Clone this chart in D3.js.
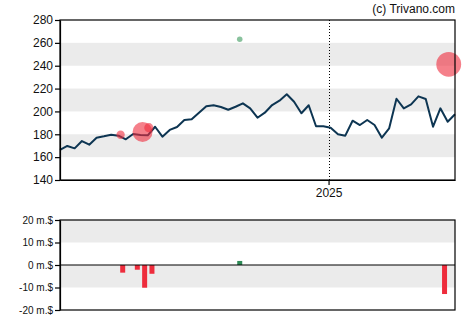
<!DOCTYPE html>
<html><head><meta charset="utf-8">
<script src="https://cdn.jsdelivr.net/npm/d3@7"></script>
<style>body{margin:0;background:#fff}svg{display:block;font-family:"Liberation Sans",Arial,sans-serif}</style>
</head><body><div id="chart"></div>
<script>
const startDate = "2024-04-19";
const prices = [166.3,169.8,167.7,174.1,170.9,177.0,178.2,179.6,178.8,175.6,180.3,179.4,179.1,186.6,177.9,183.8,186.4,192.5,193.1,198.9,204.5,205.4,203.9,201.5,204.1,207.1,202.7,194.5,198.9,205.6,209.4,215.0,208.5,198.4,205.4,187.0,187.0,185.8,180.0,178.8,191.9,188.1,192.5,188.1,177.0,185.2,211.1,202.7,206.2,213.2,210.9,186.6,202.7,191.0,197.5];
const priceTicks = [140,160,180,200,220,240,260,280];
const priceBands = [[240,260],[200,220],[160,180]];
const tradeDates = ["2024-06-16","2024-07-07","2024-07-13","2024-10-08","2025-04-26"];
const tradePrices = [179.6,182.0,185.8,263.1,241.2];
const tradeValues = [-3.4,-10.1,-3.9,1.8,-12.9];
const flowDates = ["2024-06-18","2024-07-02","2024-07-09","2024-07-16","2024-10-08","2025-04-22"];
const flowValues = [-3.4,-2.1,-10.1,-3.9,1.8,-12.9];
const flowTicks = [-20,-10,0,10,20];
const flowBands = [[10,20],[-10,0]];
const yearMarks = ["2025-01-01"];
const yearLabels = ["2025"];

const W=470,H=325;
const parse=d3.utcParse("%Y-%m-%d");
const t0=parse(startDate);
const dates=prices.map((p,i)=>d3.utcDay.offset(t0,i*7));
const svg=d3.select("#chart").append("svg").attr("width",W).attr("height",H);
const L=60,R=455,T1=20,B1=180,T2=220,B2=310;
const x=d3.scaleUtc().domain([dates[0],dates[dates.length-1]]).range([L,R]);
const y=d3.scaleLinear().domain([140,280]).range([B1,T1]);
const y2=d3.scaleLinear().domain([-20,20]).range([B2,T2]);
const band="#ebebeb";

svg.append("g").selectAll("rect").data(priceBands).join("rect")
 .attr("x",L).attr("width",R-L).attr("y",d=>y(d[1])).attr("height",d=>y(d[0])-y(d[1])).attr("fill",band);
svg.append("g").selectAll("rect").data(flowBands).join("rect")
 .attr("x",L).attr("width",R-L).attr("y",d=>y2(d[1])).attr("height",d=>y2(d[0])-y2(d[1])).attr("fill",band);

svg.append("g").selectAll("line").data(yearMarks).join("line")
 .attr("x1",d=>Math.round(x(parse(d)))+0.5).attr("x2",d=>Math.round(x(parse(d)))+0.5)
 .attr("y1",T1).attr("y2",B1).attr("stroke","#000").attr("stroke-dasharray","1,2");

svg.append("path").datum(prices).attr("fill","none").attr("stroke","#0d3552").attr("stroke-width",2).attr("stroke-linejoin","round")
 .attr("d",d3.line().x((d,i)=>x(dates[i])).y(d=>y(d)));

const r=d3.scaleLinear().domain([0,13]).range([1.2,12.5]);
svg.append("g").selectAll("circle").data(tradeValues).join("circle")
 .attr("cx",(d,i)=>x(parse(tradeDates[i]))).attr("cy",(d,i)=>y(tradePrices[i]))
 .attr("r",d=>r(Math.abs(d)))
 .attr("fill",d=>d<0?"#ee2c3c":"#3a9a5c").attr("fill-opacity",0.6);

svg.append("g").selectAll("rect").data(flowValues).join("rect")
 .attr("x",(d,i)=>x(parse(flowDates[i]))-2.5).attr("width",5)
 .attr("y",d=>y2(Math.max(0,d))).attr("height",d=>Math.abs(y2(d)-y2(0)))
 .attr("fill",d=>d<0?"#ee2c3c":"#2e8b57");

function frame(t,b){svg.append("rect").attr("x",L).attr("y",t).attr("width",R-L).attr("height",b-t).attr("fill","none").attr("stroke","#000").attr("stroke-width",1.2);}
frame(T1,B1);frame(T2,B2);
svg.append("line").attr("x1",L).attr("x2",R).attr("y1",y2(0)).attr("y2",y2(0)).attr("stroke","#000").attr("stroke-width",1.2);

const ay=svg.append("g").attr("transform",`translate(${L},0)`).call(d3.axisLeft(y).tickValues(priceTicks).tickSize(5).tickSizeOuter(0).tickPadding(2).tickFormat(d3.format("d")));
const ay2=svg.append("g").attr("transform",`translate(${L},0)`).call(d3.axisLeft(y2).tickValues(flowTicks).tickSize(5).tickSizeOuter(0).tickPadding(2).tickFormat(d=>d+" m.$"));
const ax=svg.append("g").attr("transform",`translate(0,${B1})`).call(d3.axisBottom(x).tickValues(yearMarks.map(parse)).tickSize(5).tickSizeOuter(0).tickPadding(3).tickFormat((d,i)=>yearLabels[i]));
[ay,ax].forEach(g=>{g.selectAll("text").attr("font-size",12).attr("fill","#111").attr("font-family","Liberation Sans, Arial, sans-serif");});
ay2.selectAll("text").attr("font-size",10).attr("fill","#111").attr("font-family","Liberation Sans, Arial, sans-serif");
[ay,ay2,ax].forEach(g=>{g.select(".domain").attr("stroke-width",1.2);g.selectAll(".tick line").attr("stroke-width",1.2);});

svg.append("text").attr("x",R).attr("y",13).attr("text-anchor","end").attr("font-size",12).attr("fill","#111").text("(c) Trivano.com");
</script></body></html>
